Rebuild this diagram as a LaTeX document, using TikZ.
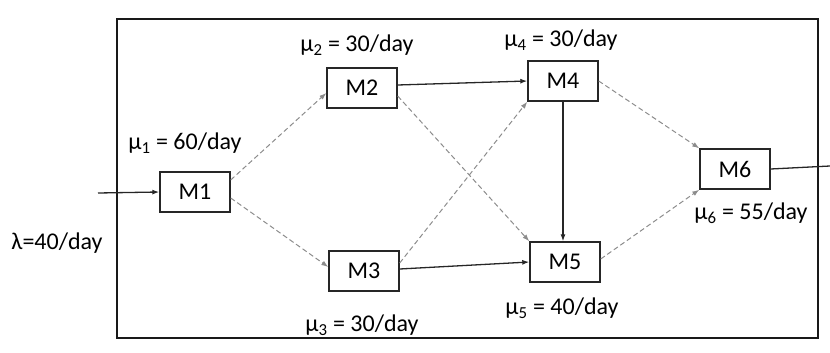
\documentclass[tikz,border=0pt]{standalone}
\usepackage{fontspec}
\setmainfont{Carlito}
\usetikzlibrary{arrows.meta}
\begin{document}
\begin{tikzpicture}[x=1pt,y=-1pt,
  font=\fontsize{24}{28}\selectfont,
  machine/.style={draw=black!85,line width=1.4pt,minimum width=70pt,minimum height=40pt,inner sep=0pt},
  lbl/.style={inner sep=0pt,anchor=center},
  solidarrow/.style={draw=black!85,line width=1.3pt,-{Latex[length=7pt,width=5pt]}},
  dasharrow/.style={draw=black!45,line width=1pt,dash pattern=on 5pt off 3pt,-{Latex[length=7pt,width=5pt]}}]
\useasboundingbox (0,0) rectangle (830,353);
\draw[line width=1.7pt,black!90] (117,19) rectangle (818,338);
% machines
\node[machine] (M1) at (195,192) {M1};
\node[machine] (M2) at (362,88) {M2};
\node[machine] (M3) at (364,271) {M3};
\node[machine] (M4) at (563,81) {M4};
\node[machine] (M5) at (565,262) {M5};
\node[machine] (M6) at (735,169) {M6};
% labels
\node[lbl] (L0) at (57,243) {λ=40/day};
\node[lbl] (L1) at (185,143) {μ\textsubscript{1} = 60/day};
\node[lbl] (L2) at (357,45) {μ\textsubscript{2} = 30/day};
\node[lbl] (L3) at (362,325) {μ\textsubscript{3} = 30/day};
\node[lbl] (L4) at (561,40) {μ\textsubscript{4} = 30/day};
\node[lbl] (L5) at (562,308) {μ\textsubscript{5} = 40/day};
\node[lbl] (L6) at (751,213) {μ\textsubscript{6} = 55/day};
% connectors
\coordinate (in) at (98,193);
\coordinate (out) at (830,166);
\draw[solidarrow] (in) -- (M1.west);
\draw[dasharrow] ([yshift=12pt]M1.east) -- ([yshift=-5pt]M2.west);
\draw[dasharrow] ([yshift=-6pt]M1.east) -- ([yshift=4pt]M3.west);
\draw[solidarrow] ([yshift=3pt]M2.east) -- (M4.west);
\draw[dasharrow] ([yshift=-8pt]M2.east) -- (M5.north west);
\draw[dasharrow] ([yshift=8pt]M3.east) -- (M4.south west);
\draw[solidarrow] ([yshift=2pt]M3.east) -- (M5.west);
\draw[solidarrow] (M4.south) -- (M4.south |- M5.north);
\draw[dasharrow] (M4.east) -- (M6.north west);
\draw[dasharrow] ([yshift=3pt]M5.east) -- (M6.south west);
\draw[draw=black!85,line width=1.3pt] (M6.east) -- (out);
\end{tikzpicture}
\end{document}
